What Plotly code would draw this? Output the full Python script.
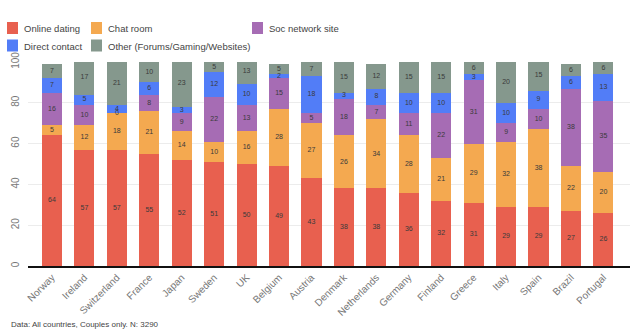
import plotly.graph_objects as go

countries = ["Norway", "Ireland", "Switzerland", "France", "Japan", "Sweden", "UK",
             "Belgium", "Austria", "Denmark", "Netherlands", "Germany", "Finland",
             "Greece", "Italy", "Spain", "Brazil", "Portugal"]

online_dating = [64, 57, 57, 55, 52, 51, 50, 49, 43, 38, 38, 36, 32, 31, 29, 29, 27, 26]
chat_room = [5, 12, 18, 21, 14, 10, 16, 28, 27, 26, 34, 28, 21, 29, 32, 38, 22, 20]
soc_network = [16, 10, 0, 8, 9, 22, 13, 15, 5, 18, 7, 11, 22, 31, 9, 10, 38, 35]
direct_contact = [7, 5, 4, 6, 3, 12, 10, 2, 18, 3, 8, 10, 10, 3, 10, 9, 6, 13]
other = [7, 17, 21, 10, 23, 5, 13, 5, 7, 15, 12, 15, 15, 6, 20, 15, 6, 6]

series = [
    ("Online dating", online_dating, "#E8604F"),
    ("Chat room", chat_room, "#F4A950"),
    ("Soc network site", soc_network, "#A66CB4"),
    ("Direct contact", direct_contact, "#527DF7"),
    ("Other (Forums/Gaming/Websites)", other, "#85988D"),
]

W, H = 639, 336
L, R, T, B = 28, 630, 62, 266

fig = go.Figure()
base = [0] * len(countries)
for name, vals, color in series:
    fig.add_trace(go.Bar(x=countries, y=vals, name=name, marker_color=color,
                         marker_line_width=0, showlegend=False))
    mids = [b + v / 2 for b, v in zip(base, vals)]
    fig.add_trace(go.Scatter(x=countries, y=mids, mode="text",
                             text=[str(v) for v in vals],
                             textfont=dict(size=7, color="#3a3a3a", family="Liberation Sans"),
                             showlegend=False, hoverinfo="skip"))
    base = [b + v for b, v in zip(base, vals)]


def px_x(p):
    return (p - L) / (R - L)


def px_y(p):
    return (B - p) / (B - T)


# Legend grid: (column x, row y) per series
legend_pos = {
    "Online dating": (7, 28),
    "Chat room": (91, 28),
    "Soc network site": (252, 28),
    "Direct contact": (7, 45.5),
    "Other (Forums/Gaming/Websites)": (91, 45.5),
}
shapes = []
annotations = []
for name, vals, color in series:
    x0, yc = legend_pos[name]
    shapes.append(dict(type="rect", xref="paper", yref="paper",
                       x0=px_x(x0), x1=px_x(x0 + 11), y0=px_y(yc + 6), y1=px_y(yc - 6),
                       fillcolor=color, line_width=0))
    annotations.append(dict(xref="paper", yref="paper", x=px_x(x0 + 15), y=px_y(yc + 1),
                            xanchor="left", yanchor="middle", showarrow=False, text=name,
                            font=dict(size=9.5, color="#444", family="Liberation Sans")))

annotations.append(dict(xref="paper", yref="paper", x=px_x(9), y=px_y(324),
                        xanchor="left", yanchor="middle", showarrow=False,
                        text="Data: All countries, Couples only. N: 3290",
                        font=dict(size=8, color="#444", family="Liberation Sans")))

fig.update_layout(
    width=W, height=H,
    margin=dict(l=L, r=W - R, t=T, b=H - B, pad=0),
    barmode="stack", bargap=0.38,
    plot_bgcolor="white", paper_bgcolor="white",
    font=dict(family="Liberation Sans", color="#555"),
    shapes=shapes, annotations=annotations,
    xaxis=dict(range=[-0.74, 17.82], tickangle=-45, tickfont=dict(size=10, color="#777"),
               showgrid=False, showline=True, linecolor="#111", linewidth=1.5, ticks=""),
    yaxis=dict(range=[0, 100], tickvals=[0, 20, 40, 60, 80, 100], tickangle=-90,
               tickfont=dict(size=10, color="#777"), showgrid=True, gridcolor="#ececec",
               zeroline=False, ticks="", ticklabelstandoff=6),
)

fig.write_html("out.html")
